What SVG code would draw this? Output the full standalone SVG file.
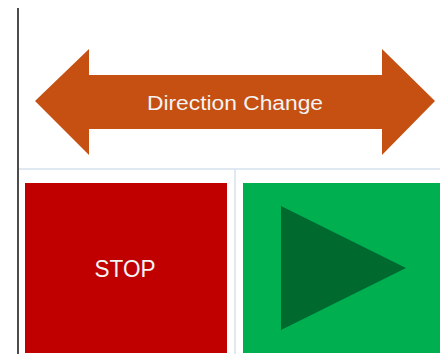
<svg xmlns="http://www.w3.org/2000/svg" width="440" height="354" viewBox="0 0 440 354">
  <style>
    .label { font-family: "Liberation Sans", Arial, sans-serif; fill: #f4f4f4; text-anchor: middle; }
    .grid { stroke: #d6e2ee; stroke-width: 1.5; fill: none; }
  </style>
  <rect x="0" y="0" width="440" height="354" fill="#ffffff"/>

  <!-- frame and grid lines -->
  <g id="connectors">
    <line x1="18" y1="8" x2="18" y2="354" stroke="#111111" stroke-width="1.5"/>
    <line class="grid" x1="19" y1="169" x2="440" y2="169"/>
    <line class="grid" x1="235" y1="169" x2="235" y2="354"/>
  </g>

  <!-- double-headed direction arrow -->
  <g id="direction-change">
    <polygon points="35,101 89,49 89,75 382,75 382,49 435,101 382,155 382,129 89,129 89,155" fill="#c55012"/>
    <text class="label" x="235" y="110" font-size="20.5" textLength="176" lengthAdjust="spacingAndGlyphs">Direction Change</text>
  </g>

  <!-- stop button -->
  <g id="stop">
    <rect x="25" y="183" width="202" height="170" fill="#c00000"/>
    <text class="label" x="125" y="277" font-size="24" textLength="61" lengthAdjust="spacingAndGlyphs">STOP</text>
  </g>

  <!-- play button -->
  <g id="play">
    <rect x="243" y="183" width="197" height="170" fill="#00b050"/>
    <polygon points="281,206 406,268 281,330" fill="#006a2e"/>
  </g>
</svg>
